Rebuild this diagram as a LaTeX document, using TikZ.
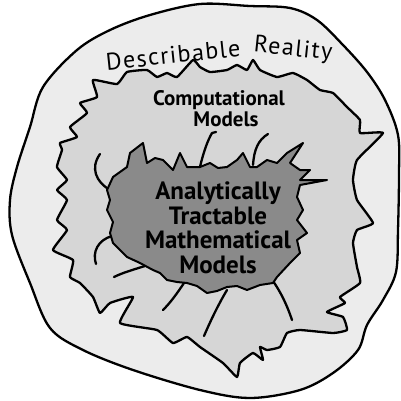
\documentclass[tikz,border=0pt]{standalone}
\usepackage{fontspec}
\setmainfont{PT Sans}
\definecolor{outerfill}{HTML}{ECECEC}
\definecolor{midfill}{HTML}{D6D6D6}
\definecolor{innerfill}{HTML}{8A8A8A}
\begin{document}
\begin{tikzpicture}[x=1pt,y=-1pt,line width=2.3pt,line join=round,line cap=round,
  tendril/.style={line width=2.3pt},
  lbl/.style={inner sep=0pt,text=black}]
\useasboundingbox (0,0) rectangle (401,401);
\fill[white] (0,0) rectangle (401,401);
% outer blob
\draw[fill=outerfill] plot[smooth cycle,tension=0.55] coordinates {
 (200,4) (250,6) (290,8) (317,20) (343,45) (367,72) (385,100) (398,135) (399,175)
 (398,230) (396,272) (383,300) (367,325) (358,350) (333,373) (300,390) (250,398)
 (200,390) (133,370) (83,350) (50,328) (30,283) (12,235) (10,200) (17,167) (30,127)
 (43,87) (77,50) (110,30) (150,15)};
% middle spiky blob
\draw[fill=midfill] plot[smooth cycle,tension=0.25] coordinates {
 (93,80) (117,84) (127,72) (147,70) (157,77) (167,73) (177,77) (193,60) (200,67)
 (210,72) (227,70) (237,65) (247,70) (253,60) (260,70) (277,77) (293,73) (307,80)
 (320,90) (333,93) (347,107) (360,120) (360,133) (383,133) (357,160) (353,180)
 (357,200) (373,223) (357,230) (353,243) (357,267) (360,283) (340,297) (345,303)
 (327,312) (343,317) (347,330) (333,333) (300,330) (287,333) (280,347) (267,350)
 (260,347) (263,360) (253,353) (240,363) (237,377) (223,363) (200,347) (187,337)
 (173,343) (157,330) (120,323) (133,297) (110,303) (100,313) (93,297) (80,283)
 (70,277) (73,260) (53,250) (67,230) (57,220) (67,200) (57,190) (67,180) (57,167)
 (62,150) (60,143) (77,137) (70,127) (87,113) (80,103) (97,97)};
% tendrils
\draw[tendril] (200,167) .. controls (204,150) and (208,140) .. (212,133) -- (216,132);
\draw[tendril] (253,165) .. controls (254,150) and (258,140) .. (268,134);
\draw[tendril] (110,190) .. controls (96,182) and (90,168) .. (100,154);
\draw[tendril] (112,236) .. controls (98,240) and (92,252) .. (96,264);
\draw[tendril] (145,266) .. controls (132,270) and (122,273) .. (114,277);
\draw[tendril] (184,283) .. controls (176,295) and (170,303) .. (163,310);
\draw[tendril] (227,290) .. controls (218,305) and (210,322) .. (204,336);
\draw[tendril] (270,277) .. controls (280,290) and (287,305) .. (292,320);
% inner blob
\draw[fill=innerfill,line width=2pt] plot[sharp cycle] coordinates {
 (130,153) (143,143) (147,163) (155,158) (163,160) (173,170) (180,153) (187,167)
 (200,167) (210,163) (218,168) (227,167) (237,160) (243,153) (250,167) (257,167)
 (267,160) (277,163) (287,153) (303,143) (290,163) (300,170) (310,170) (300,180)
 (327,180) (300,185) (297,197) (303,210) (297,220) (307,233) (297,240) (300,253)
 (290,263) (277,277) (273,283) (260,285) (247,290) (237,286) (227,287) (217,291)
 (207,293) (197,286) (187,283) (177,282) (167,280) (160,273) (153,270) (140,263)
 (127,257) (120,250) (113,243) (110,233) (113,222) (107,210) (110,200) (107,190)
 (113,177) (120,172) (127,167)};
% labels
\node[lbl,rotate=6,font=\fontsize{24}{26}\selectfont\addfontfeatures{LetterSpace=6}] (desc) at (173,55) {Describable};
\node[lbl,rotate=-6,font=\fontsize{24}{26}\selectfont\addfontfeatures{LetterSpace=6}] (real) at (293,50) {Reality};
\node[lbl,font=\bfseries\fontsize{21}{22}\selectfont] (comp) at (219,100) {Computational};
\node[lbl,font=\bfseries\fontsize{21}{22}\selectfont] (cmod) at (226,119) {Models};
\node[lbl,align=center,font=\bfseries\fontsize{25}{24.5}\selectfont] (anal) at (218,228)
 {Analytically\\Tractable\\Mathematical\\Models};
\end{tikzpicture}
\end{document}
